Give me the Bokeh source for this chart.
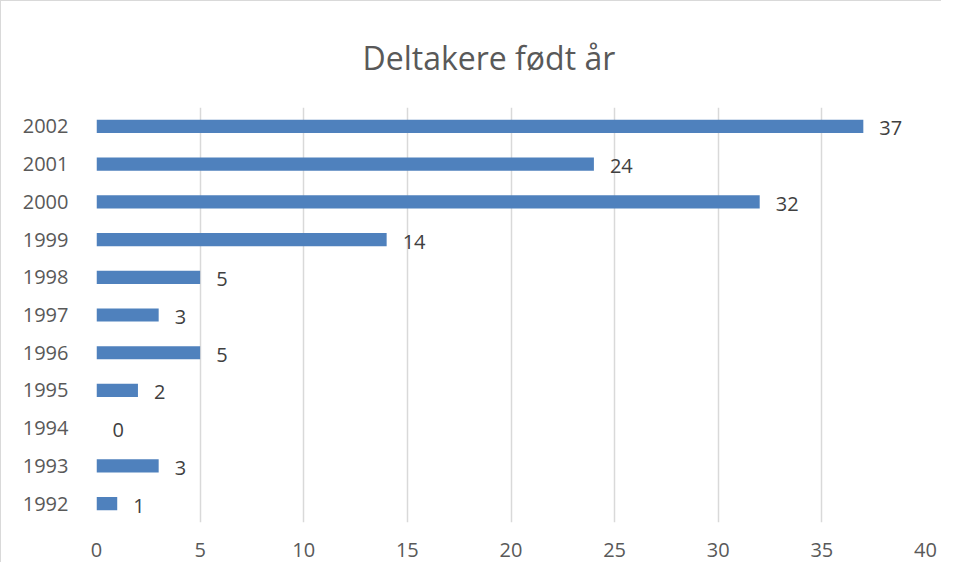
from bokeh.plotting import figure
from bokeh.models import Range1d, FixedTicker, ColumnDataSource
from bokeh.embed import file_html
from bokeh.resources import INLINE
from bokeh.core.properties import value

years = ["1992", "1993", "1994", "1995", "1996", "1997", "1998", "1999", "2000", "2001", "2002"]
counts = [1, 3, 0, 2, 5, 3, 5, 14, 32, 24, 37]
x_ticks = [0, 5, 10, 15, 20, 25, 30, 35, 40]
title_text = "Deltakere født år"

FONT = "Open Sans"
pos = list(range(len(years)))
src = ColumnDataSource(dict(y=pos, v=counts, lab=[str(c) for c in counts]))

p = figure(width=941, height=562, output_backend="svg", toolbar_location=None,
           x_range=Range1d(0, 40), y_range=Range1d(-0.5, len(years) - 0.5),
           min_border_left=95, min_border_right=17, min_border_top=106, min_border_bottom=41,
           styles={"border-top": "1px solid #d9d9d9", "border-left": "1px solid #d9d9d9"})
p.outline_line_color = None
p.background_fill_color = "white"
p.border_fill_color = "white"

p.title.text = title_text
p.title.align = "left"
p.title.offset = 266
p.title.standoff = 57
p.title.text_font = FONT
p.title.text_font_size = "32px"
p.title.text_font_style = "normal"
p.title.text_color = "#595959"

p.hbar(y="y", right="v", left=0, height=0.35, source=src, color="#4F81BD", line_color=None)
p.text(x="v", y="y", text="lab", source=src, x_offset=16, y_offset=2,
       text_font=value(FONT), text_font_size="20px", text_color="#404040",
       text_baseline="middle", text_align="left")

p.xaxis.ticker = FixedTicker(ticks=x_ticks)
p.yaxis.ticker = FixedTicker(ticks=pos)
p.yaxis.major_label_overrides = {i: y for i, y in enumerate(years)}
for ax in (p.xaxis, p.yaxis):
    ax.axis_line_color = None
    ax.major_tick_line_color = None
    ax.minor_tick_line_color = None
    ax.major_label_text_font = FONT
    ax.major_label_text_font_size = "20px"
    ax.major_label_text_color = "#595959"
p.xaxis.major_label_standoff = 14
p.yaxis.major_label_standoff = 22

p.xgrid.grid_line_color = "#d9d9d9"
p.xgrid.grid_line_width = 1.5
p.ygrid.grid_line_color = None

open("out.html", "w").write(file_html(p, INLINE))
